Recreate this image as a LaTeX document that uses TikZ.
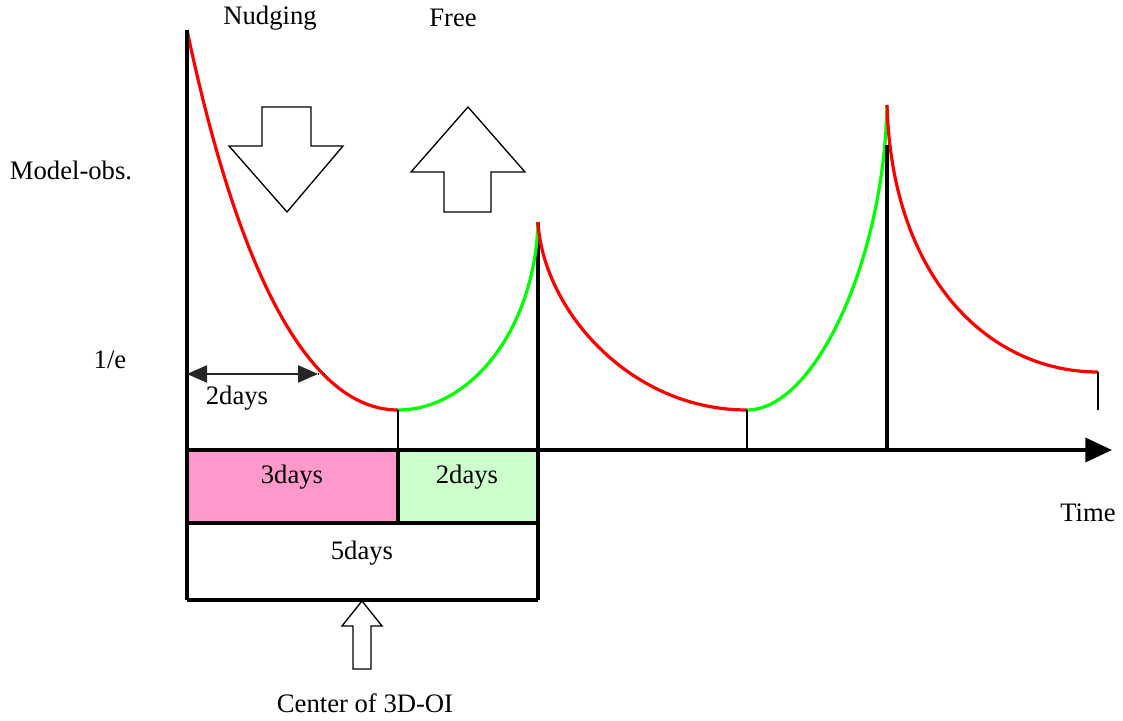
\documentclass[tikz,border=0pt]{standalone}
\usepackage{fontspec}
\setmainfont{Liberation Serif}
\usetikzlibrary{arrows.meta,positioning}
\definecolor{nudgered}{RGB}{255,0,0}
\definecolor{freegreen}{RGB}{0,255,0}
\definecolor{nudgepink}{RGB}{255,153,204}
\definecolor{freemint}{RGB}{204,255,204}
\tikzset{
  lbl/.style={font=\fontsize{10}{12}\selectfont, inner sep=1pt, text=black},
  axis/.style={line width=1.35pt, draw=black},
  tick/.style={line width=0.55pt, draw=black},
  decay/.style={line width=1.2pt, draw=nudgered},
  recover/.style={line width=1.2pt, draw=freegreen},
  hollow/.style={draw=black, fill=white, line width=0.5pt, line join=miter},
  arr/.style={-{Triangle[length=10pt,width=9pt]}, axis},
  arr2/.style={{Triangle[length=7.5pt,width=6.5pt]}-{Triangle[length=7.5pt,width=6.5pt]}, line width=0.45pt, draw=black!85},
}
\begin{document}
\begin{tikzpicture}[x=0.375pt,y=-0.375pt]
  \useasboundingbox (0,0) rectangle (1123,721);
  % key points
  \coordinate (top) at (187,30);
  \coordinate (o) at (187,450);
  \coordinate (tend) at (1112,450);
  \coordinate (m1) at (398,410);
  \coordinate (p1) at (538,222);
  \coordinate (m2) at (747,410);
  \coordinate (p2) at (887,105);
  \coordinate (e) at (1098,372);
  % window boxes
  \fill[nudgepink] (187,450) rectangle (398,523);
  \fill[freemint]  (398,450) rectangle (538,523);
  \draw[axis] (187,523) -- (538,523);
  \draw[axis] (398,450) -- (398,523);
  \draw[axis] (187,600) -- (538,600);
  \draw[axis] (538,222) -- (538,600);
  % error curves
  \draw[decay]   (top) .. controls (239,276) and (310,410) .. (m1);
  \draw[recover] (m1) .. controls (470,410) and (535,330) .. (p1);
  \draw[decay]   (p1) .. controls (543,310) and (630,410) .. (m2);
  \draw[recover] (m2) .. controls (815,410) and (884,260) .. (p2);
  \draw[decay]   (p2) .. controls (892,280) and (990,372) .. (e);
  % ticks
  \draw[tick] (m1) -- (398,450);
  \draw[tick] (m2) -- (747,450);
  \draw[tick] (e) -- (1098,410);
  \draw[axis] (887,145) -- (887,450);
  % axes
  \draw[axis] (top) -- (187,600);
  \draw[arr] (o) -- (tend);
  % e-folding time
  \coordinate (ta) at (187,374);
  \coordinate (tb) at (318,374);
  \coordinate (tc) at (327,374);
  \draw[arr2] (ta) -- (tb);
  \draw[dotted, line width=0.4pt] (tb) -- (tc);
  % block arrows
  \draw[hollow] (262,107) -- (311,107) -- (311,146) -- (343,146) -- (287,212) -- (229,146) -- (262,146) -- cycle;
  \draw[hollow] (444,212) -- (491,212) -- (491,172) -- (525,172) -- (468,107) -- (411,172) -- (444,172) -- cycle;
  \draw[hollow] (353,669) -- (371,669) -- (371,626) -- (382,626) -- (362,601) -- (342,626) -- (353,626) -- cycle;
  % labels
  \node[lbl] (nudging) at (270,18) {Nudging};
  \node[lbl] (free) at (453,18) {Free};
  \node[lbl] (modelobs) at (71,170) {Model-obs.};
  \node[lbl] (inve) at (110,360) {1/e};
  \node[lbl] (twoday) at (237,398) {2days};
  \node[lbl] (threedays) at (292,477) {3days};
  \node[lbl] (twodays) at (467,477) {2days};
  \node[lbl] (fivedays) at (362,553) {5days};
  \node[lbl] (time) at (1088,513) {Time};
  \node[lbl] (center) at (365,703) {Center of 3D-OI};
\end{tikzpicture}
\end{document}
